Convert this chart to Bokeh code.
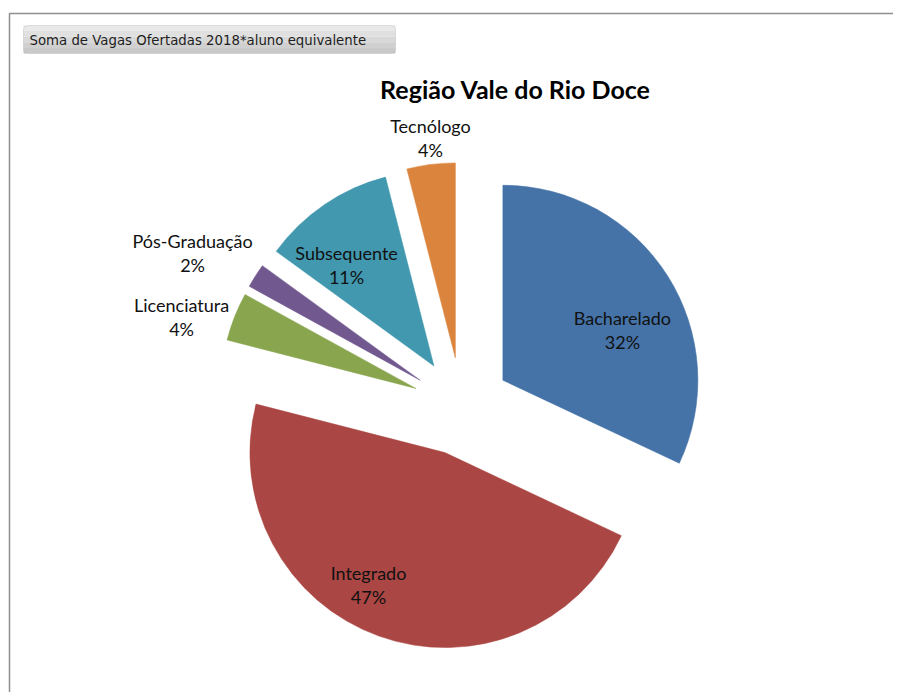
import numpy as np
from bokeh.plotting import figure
from bokeh.models import Range1d, ColumnDataSource, BoxAnnotation
from bokeh.core.properties import value
from bokeh.embed import file_html
from bokeh.resources import INLINE

# ---- data ----
categories = ["Bacharelado", "Integrado", "Licenciatura", "Pós-Graduação", "Subsequente", "Tecnólogo"]
percent = [32, 47, 4, 2, 11, 4]
colors = ["#4573A8", "#AA4643", "#89A54E", "#71588F", "#4198AF", "#DB843D"]
chart_title = "Região Vale do Rio Doce"
field_button = "Soma de Vagas Ofertadas 2018*aluno equivalente"

# ---- layout (pixels of the page) ----
W, H = 893, 692
def px(x):
    return x
def py(y):
    return H - y

CX, CY = px(461), py(406)
R = 195
EXPLODE = 49
# label placement per slice: (angle nudge in degrees, distance as fraction of radius from slice apex)
label_nudge = [(9.6, 0.665), (10.1, 0.786), (-4.7, 1.256), (-3.1, 1.338), (-6.8, 0.683), (0.75, 1.137)]

p = figure(width=W, height=H, x_range=Range1d(0, W), y_range=Range1d(0, H),
           output_backend="svg", toolbar_location=None, min_border=0)
p.axis.visible = False
p.grid.visible = False
p.outline_line_color = None
p.background_fill_color = "white"
p.border_fill_color = "white"

# chart frame (top and left edges visible)
p.line([px(9), px(9), px(905)], [py(705), py(13), py(13)], line_color="#8f8f8f", line_width=1.5)

# field button (soft vertical gradient)
band_cols = ["#e9e9e9", "#e0e0e0", "#d8d8d8", "#d0d0d0", "#c9c9c9"]
top = 25
step = 28 / len(band_cols)
for i, c in enumerate(band_cols):
    p.add_layout(BoxAnnotation(left=px(23), right=px(395), top=py(top + i * step),
                               bottom=py(top + (i + 1) * step),
                               fill_color=c, fill_alpha=1, line_color=None, level="underlay"))
p.add_layout(BoxAnnotation(left=px(23), right=px(395), top=py(25), bottom=py(53),
                           fill_color=None, fill_alpha=0, line_color="#a6a6a6", line_width=1,
                           border_radius=4, level="underlay"))
p.text(x=[px(29)], y=[py(40)], text=[field_button], text_font=value("DejaVu Sans"),
       text_font_size="13.3px", text_color="#1e1e1e", text_align="left", text_baseline="middle")

# title
p.text(x=[px(515)], y=[py(88)], text=[chart_title], text_font=value("Lato"),
       text_font_style="bold", text_font_size="25px", text_color="#000000",
       text_align="center", text_baseline="middle")

# pie geometry
frac = np.array(percent, dtype=float) / sum(percent)
cum = np.concatenate([[0.0], np.cumsum(frac)]) * 2 * np.pi
start_c, end_c = cum[:-1], cum[1:]
mid_c = (start_c + end_c) / 2
ax = CX + EXPLODE * np.sin(mid_c)
ay = CY + EXPLODE * np.cos(mid_c)

src = ColumnDataSource(dict(x=ax, y=ay, start=np.pi / 2 - start_c, end=np.pi / 2 - end_c,
                            color=colors, cat=categories))
p.wedge(x="x", y="y", radius=R, start_angle="start", end_angle="end", direction="clock",
        fill_color="color", line_color="color", line_width=0.5, source=src)

# labels
lx, ly = [], []
for i in range(len(categories)):
    shift, f = label_nudge[i]
    a = mid_c[i] + np.radians(shift)
    lx.append(ax[i] + f * R * np.sin(a))
    ly.append(ay[i] + f * R * np.cos(a))
lx = np.array(lx); ly = np.array(ly)
pct_text = [f"{v}%" for v in percent]
p.text(x=lx, y=ly + 12, text=categories, text_font=value("Lato"), text_font_size="18px",
       text_color="#111111", text_align="center", text_baseline="middle")
p.text(x=lx, y=ly - 12, text=pct_text, text_font=value("Lato"), text_font_size="18px",
       text_color="#111111", text_align="center", text_baseline="middle")

open("out.html", "w").write(file_html(p, INLINE))
